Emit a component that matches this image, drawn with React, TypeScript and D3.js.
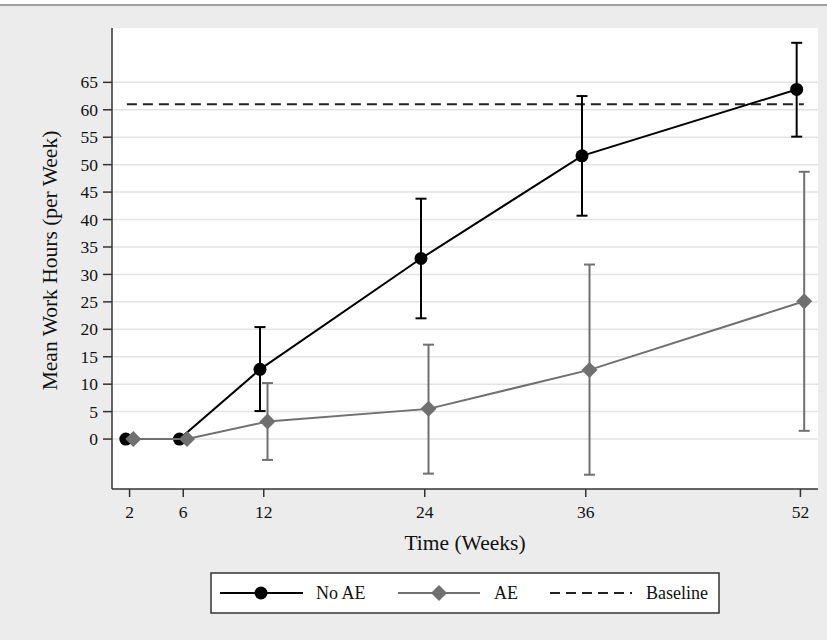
import React from 'react';
import * as d3 from 'd3';

// values
const weeks = [2, 6, 12, 24, 36, 52];
const noAeMean = [0, 0, 12.7, 32.9, 51.6, 63.7];
const noAeLower = [null, null, 5.1, 22.0, 40.7, 55.1];
const noAeUpper = [null, null, 20.4, 43.8, 62.5, 72.2];
const aeMean = [0, 0, 3.2, 5.5, 12.6, 25.1];
const aeLower = [null, null, -3.8, -6.3, -6.5, 1.5];
const aeUpper = [null, null, 10.2, 17.2, 31.8, 48.7];
const baselineHours = 61;
const yTicks = [0, 5, 10, 15, 20, 25, 30, 35, 40, 45, 50, 55, 60, 65];

const W = 827;
const H = 640;
const plot = { left: 112, right: 818, top: 28, bottom: 489 };
const FONT = '"Liberation Serif", "Times New Roman", serif';
const DARK = '#000';
const GREY = '#707070';
const DODGE = 0.28;

const x = d3.scaleLinear().domain([0.69, 53.31]).range([plot.left, plot.right]);
const y = d3.scaleLinear().domain([-9.1, 74.9]).range([plot.bottom, plot.top]);

type Pt = { wk: number; m: number; lo: number | null; hi: number | null };

const toPts = (m: number[], lo: (number | null)[], hi: (number | null)[], shift: number): Pt[] =>
  weeks.map((w, i) => ({ wk: w + shift, m: m[i], lo: lo[i], hi: hi[i] }));

const noAe = toPts(noAeMean, noAeLower, noAeUpper, -DODGE);
const ae = toPts(aeMean, aeLower, aeUpper, DODGE);

const line = d3.line<Pt>().x(d => x(d.wk)).y(d => y(d.m));

const diamond = (cx: number, cy: number, r: number) =>
  `M${cx},${cy - r}L${cx + r},${cy}L${cx},${cy + r}L${cx - r},${cy}Z`;

const ErrorBars = ({ pts, color }: { pts: Pt[]; color: string }) => (
  <g stroke={color} strokeWidth={2}>
    {pts.filter(d => d.lo !== null && d.hi !== null).map((d, i) => {
      const cx = x(d.wk);
      return (
        <g key={i}>
          <line x1={cx} x2={cx} y1={y(d.lo as number)} y2={y(d.hi as number)} />
          <line x1={cx - 5.5} x2={cx + 5.5} y1={y(d.lo as number)} y2={y(d.lo as number)} />
          <line x1={cx - 5.5} x2={cx + 5.5} y1={y(d.hi as number)} y2={y(d.hi as number)} />
        </g>
      );
    })}
  </g>
);

export default function App() {
  const legendY = 593;
  return (
    <svg
      width={W}
      height={H}
      style={{ position: 'absolute', left: 0, top: 0, background: '#ececec' }}
      fontFamily={FONT}
    >
      <rect x={0} y={0} width={W} height={4} fill="#fff" />
      <line x1={0} x2={W} y1={5} y2={5} stroke="#a0a0a0" strokeWidth={2} />

      {/* plot area */}
      <rect x={plot.left} y={plot.top} width={plot.right - plot.left} height={plot.bottom - plot.top} fill="#fff" />

      {/* grid */}
      {yTicks.map(t => (
        <line key={t} x1={plot.left} x2={plot.right} y1={y(t)} y2={y(t)} stroke="#e3e3e3" strokeWidth={1.5} />
      ))}

      {/* baseline */}
      <line
        x1={x(weeks[0] - 0.2)}
        x2={x(weeks[weeks.length - 1] + 0.25)}
        y1={y(baselineHours)}
        y2={y(baselineHours)}
        stroke="#222"
        strokeWidth={2}
        strokeDasharray="10,6"
      />

      {/* No AE */}
      <ErrorBars pts={noAe} color={DARK} />
      <path d={line(noAe) || ''} fill="none" stroke={DARK} strokeWidth={2} />
      {noAe.map((d, i) => (
        <circle key={i} cx={x(d.wk)} cy={y(d.m)} r={6.5} fill={DARK} />
      ))}

      {/* AE */}
      <ErrorBars pts={ae} color={GREY} />
      <path d={line(ae) || ''} fill="none" stroke={GREY} strokeWidth={2} />
      {ae.map((d, i) => (
        <path key={i} d={diamond(x(d.wk), y(d.m), 8)} fill={GREY} />
      ))}

      {/* y axis */}
      <line x1={plot.left} x2={plot.left} y1={plot.top} y2={plot.bottom} stroke="#333" strokeWidth={1.5} />
      {yTicks.map(t => (
        <g key={t}>
          <line x1={plot.left - 9} x2={plot.left} y1={y(t)} y2={y(t)} stroke="#333" strokeWidth={1.5} />
          <text x={plot.left - 14} y={y(t)} dy="0.35em" textAnchor="end" fontSize={17.5} fill="#111">
            {t}
          </text>
        </g>
      ))}
      <text
        transform={`translate(57,${(plot.top + plot.bottom) / 2 + 2}) rotate(-90)`}
        textAnchor="middle"
        fontSize={21.5}
        fill="#111"
      >
        Mean Work Hours (per Week)
      </text>

      {/* x axis */}
      <line x1={plot.left} x2={plot.right} y1={plot.bottom} y2={plot.bottom} stroke="#333" strokeWidth={1.5} />
      {weeks.map(t => (
        <g key={t}>
          <line x1={x(t)} x2={x(t)} y1={plot.bottom} y2={plot.bottom + 8} stroke="#333" strokeWidth={1.5} />
          <text x={x(t)} y={518} textAnchor="middle" fontSize={17.5} fill="#111">
            {t}
          </text>
        </g>
      ))}
      <text x={(plot.left + plot.right) / 2} y={550} textAnchor="middle" fontSize={21.5} fill="#111">
        Time (Weeks)
      </text>

      {/* legend */}
      <rect x={211} y={573} width={508} height={40} fill="#fff" stroke="#333" strokeWidth={1.5} />
      <line x1={220} x2={303} y1={legendY} y2={legendY} stroke={DARK} strokeWidth={2} />
      <circle cx={261} cy={legendY} r={6.5} fill={DARK} />
      <text x={316} y={legendY} dy="0.35em" fontSize={18} fill="#111">No AE</text>
      <line x1={398} x2={480} y1={legendY} y2={legendY} stroke={GREY} strokeWidth={2} />
      <path d={diamond(439, legendY, 8)} fill={GREY} />
      <text x={494} y={legendY} dy="0.35em" fontSize={18} fill="#111">AE</text>
      <line x1={550} x2={632} y1={legendY} y2={legendY} stroke="#222" strokeWidth={2} strokeDasharray="10,6" />
      <text x={646} y={legendY} dy="0.35em" fontSize={18} fill="#111">Baseline</text>
    </svg>
  );
}
